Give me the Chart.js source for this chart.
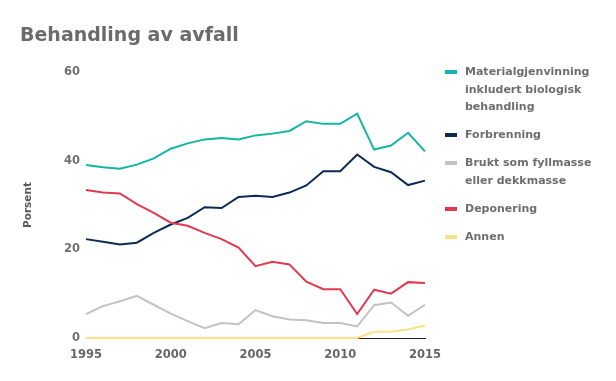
<!DOCTYPE html>
<html>
<head>
<meta charset="utf-8">
<script src="https://cdn.jsdelivr.net/npm/chart.js@4"></script>
<style>
  body { margin: 0; background: #fff; font-family: "DejaVu Sans", sans-serif; }
  #wrap { position: relative; width: 616px; height: 381px; }
  #title { position: absolute; left: 20px; top: 23px; font-size: 19px; line-height: 22px; font-weight: bold; color: #6b6b6b; }
  #legend { position: absolute; left: 445px; top: 63px; width: 171px; }
  .item { display: flex; align-items: flex-start; margin-bottom: 10.7px; }
  .box { width: 12px; height: 4px; margin-top: 7px; margin-right: 8px; flex: none; }
  .txt { font-size: 11px; font-weight: bold; color: #6e6e6e; line-height: 17.5px; white-space: nowrap; }
</style>
</head>
<body>
<div id="wrap">
  <canvas id="chart" width="616" height="381"></canvas>
  <div id="title">Behandling av avfall</div>
  <div id="legend"></div>
</div>
<script>
// Behandling av avfall, prosent
const years = ["1995","1996","1997","1998","1999","2000","2001","2002","2003","2004","2005",
  "2006","2007","2008","2009","2010","2011","2012","2013","2014","2015"];
const material = [39.0, 38.5, 38.2, 39.1, 40.5, 42.7, 43.9, 44.8, 45.1, 44.8, 45.7,
  46.1, 46.7, 48.9, 48.3, 48.3, 50.6, 42.5, 43.4, 46.3, 42.1];
const forbrenning = [22.3, 21.7, 21.1, 21.5, 23.7, 25.6, 27.1, 29.5, 29.3, 31.8, 32.1,
  31.8, 32.8, 34.4, 37.6, 37.6, 41.4, 38.6, 37.4, 34.5, 35.5];
const fyllmasse = [5.4, 7.2, 8.3, 9.5, 7.5, 5.5, 3.8, 2.2, 3.4, 3.1, 6.3,
  4.9, 4.2, 4.0, 3.4, 3.4, 2.6, 7.4, 8.0, 5.0, 7.5];
const deponering = [33.4, 32.8, 32.6, 30.2, 28.2, 26.0, 25.3, 23.7, 22.3, 20.4, 16.2,
  17.2, 16.6, 12.7, 11.0, 11.0, 5.4, 10.9, 10.0, 12.6, 12.4];
const annen = [0, 0, 0, 0, 0, 0, 0, 0, 0, 0, 0,
  0, 0, 0, 0, 0, 0, 1.4, 1.4, 1.9, 2.8];
const yTicks = [0, 20, 40, 60];

const series = [
  { label: ["Materialgjenvinning", "inkludert biologisk", "behandling"], data: material, color: "#12b5a6" },
  { label: ["Forbrenning"], data: forbrenning, color: "#0b2a55" },
  { label: ["Brukt som fyllmasse", "eller dekkmasse"], data: fyllmasse, color: "#c2c2c2" },
  { label: ["Deponering"], data: deponering, color: "#e13a50" },
  { label: ["Annen"], data: annen, color: "#fde083" },
];

// legend as html so the labels can wrap
const legendEl = document.getElementById("legend");
series.forEach(s => {
  const item = document.createElement("div");
  item.className = "item";
  item.innerHTML = '<span class="box" style="background:' + s.color + '"></span>' +
    '<span class="txt">' + s.label.join("<br>") + '</span>';
  legendEl.appendChild(item);
});

const tickFont = { family: "DejaVu Sans", size: 11.5, weight: "bold" };

const ctx = document.getElementById("chart").getContext("2d");
new Chart(ctx, {
  type: "line",
  data: {
    labels: years,
    datasets: series.slice().reverse().map(s => ({
      label: s.label.join(" "),
      data: s.data,
      borderColor: s.color,
      backgroundColor: s.color,
      borderWidth: 2,
      pointRadius: 0,
      tension: 0,
      clip: false,
    })),
  },
  options: {
    responsive: false,
    animation: false,
    layout: { padding: { left: 22, right: 191, top: 72, bottom: 0 } },
    plugins: { legend: { display: false }, tooltip: { enabled: false } },
    scales: {
      x: {
        grid: { display: false, drawTicks: false },
        border: { display: true, color: "#222", width: 1 },
        ticks: {
          autoSkip: false,
          maxRotation: 0,
          padding: 10,
          color: "#666",
          font: tickFont,
          callback: (v, i) => (i % 5 === 0 ? years[i] : ""),
        },
        afterFit: s => { s.height = 43; },
      },
      y: {
        min: 0,
        max: 60,
        afterBuildTicks: s => { s.ticks = yTicks.map(v => ({ value: v })); },
        grid: { display: false, drawTicks: false },
        border: { display: false },
        ticks: { padding: 6, color: "#707070", font: tickFont },
        title: {
          display: true,
          text: "Porsent",
          color: "#5a5a5a",
          padding: { top: 0, bottom: 0 },
          font: { family: "DejaVu Sans", size: 10.5, weight: "bold" },
        },
        afterFit: s => { s.width = 64; },
      },
    },
  },
});
</script>
</body>
</html>
